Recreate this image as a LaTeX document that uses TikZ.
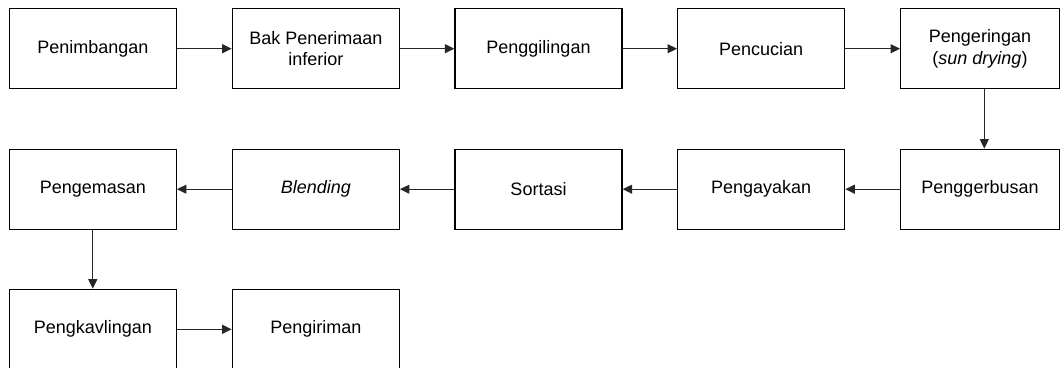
\documentclass[tikz,border=0pt]{standalone}
\usepackage{fontspec}
\setmainfont{Liberation Sans}
\usetikzlibrary{arrows.meta}
\begin{document}
\begin{tikzpicture}[x=1pt,y=-1pt,
  box/.style={draw=black, line width=1.3pt, minimum width=167pt, minimum height=80pt,
    inner sep=2pt, align=center, font=\fontsize{18}{21.5}\selectfont},
  narrowbox/.style={box, minimum width=158.6pt},
  conn/.style={draw=black!85, line width=1pt, -{Triangle[length=9.5pt,width=9pt]}}]
\useasboundingbox (0,0) rectangle (1060,367);
\clip (0,0) rectangle (1060,367);
% row 1
\node[box] (a1) at (92.8,48.7) {Penimbangan};
\node[box] (a2) at (315.8,48.7) {Bak Penerimaan\\inferior};
\node[box] (a3) at (538.5,48.7) {Penggilingan};
\node[box] (a4) at (761.2,48.7) {Pencucian};
\node[narrowbox] (a5) at (980,48.7) {Pengeringan\\(\textit{sun drying})};
% row 2
\node[box] (b1) at (92.8,189.2) {Pengemasan};
\node[box] (b2) at (315.8,189.2) {\textit{Blending}};
\node[box] (b3) at (538.5,189.2) {Sortasi};
\node[box] (b4) at (761.2,189.2) {Pengayakan};
\node[narrowbox] (b5) at (980,189.2) {Penggerbusan};
% row 3
\node[box] (c1) at (92.8,329.3) {Pengkavlingan};
\node[box] (c2) at (315.8,329.3) {Pengiriman};
% connectors
\draw[conn] (a1) -- (a2);
\draw[conn] (a2) -- (a3);
\draw[conn] (a3) -- (a4);
\draw[conn] (a4) -- (a5);
\draw[conn] ([xshift=4.3pt]a5.south) -- ([xshift=4.3pt]b5.north);
\draw[conn] (b5) -- (b4);
\draw[conn] (b4) -- (b3);
\draw[conn] (b3) -- (b2);
\draw[conn] (b2) -- (b1);
\draw[conn] (b1) -- (c1);
\draw[conn] (c1.east |- 0,329.3) -- (c2.west |- 0,329.3);
\end{tikzpicture}
\end{document}
